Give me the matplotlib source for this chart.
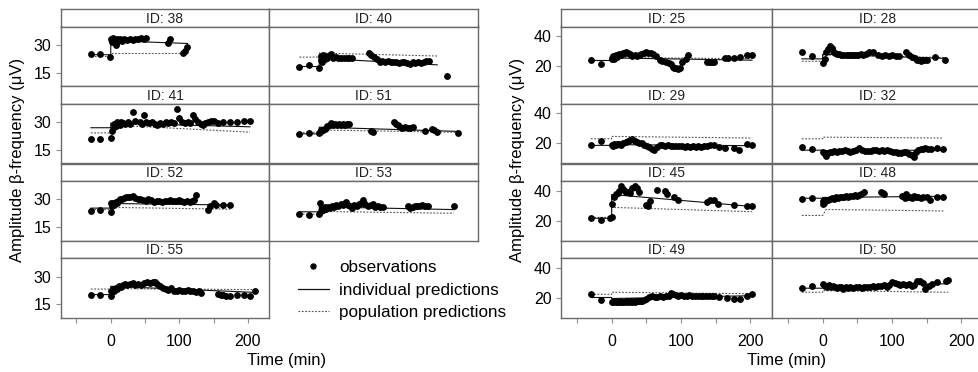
import matplotlib
matplotlib.use('Agg')
import matplotlib.pyplot as plt
from matplotlib.lines import Line2D

plt.rcParams['font.family'] = ['Liberation Sans', 'DejaVu Sans']

# ---------------- data ----------------
# observations: time (min) and amplitude (uV); individual / population predictions
t_38 = [-29, -15, -1, 1, 2, 3, 5, 7, 9, 11, 14, 17, 20, 24, 28, 32, 36, 40, 44, 48, 51, 83, 86, 105, 108, 111]
y_38 = [25, 25, 23.7, 33, 31.5, 34, 32, 30, 33, 32, 33, 32, 33, 32.5, 33, 32.5, 33, 33, 33.5, 33, 33.5, 31.3, 33.3, 25.5, 26.5, 28.8]
ind_38 = ([-29, 0, 0, 112], [24.7, 24.7, 32.3, 30.8])
pop_38 = ([-29, 0, 0, 112], [23.8, 23.8, 25.8, 25.8])

t_40 = [-29, -15, 0, 2, 3, 4, 5, 6, 8, 10, 12, 15, 17, 20, 24, 28, 32, 36, 40, 44, 48, 73, 76, 80, 84, 88, 92, 96, 100, 104, 108, 112, 116, 120, 124, 128, 132, 136, 140, 144, 148, 152, 156, 160, 186]
y_40 = [18.3, 19.2, 17.7, 22, 24, 21, 23.5, 24.5, 22.5, 24, 23, 24.5, 25, 23, 23.5, 23, 22.8, 23, 22.8, 23, 22.8, 25.5, 24.5, 23.5, 22.5, 21, 21.5, 20.5, 21.5, 21, 20.5, 21, 20, 21, 20.5, 20, 19.8, 20.5, 20, 20.8, 20.3, 21, 21.3, 21.5, 13.3]
ind_40 = ([-29, 0, 0, 172], [18.3, 18.3, 22.8, 19.2])
pop_40 = ([-29, 0, 0, 172], [23.4, 23.4, 25.6, 24.0])

t_41 = [-29, -15, 0, 2, 4, 5, 7, 9, 11, 13, 15, 18, 21, 25, 28, 32, 36, 42, 46, 48, 52, 56, 60, 64, 68, 72, 76, 80, 84, 88, 92, 97, 100, 104, 108, 112, 116, 120, 123, 127, 131, 135, 138, 142, 146, 150, 156, 164, 174, 184, 194, 203]
y_41 = [20.8, 20.8, 21.2, 25.3, 27.5, 29, 28, 30, 29, 28.5, 30, 29.5, 29, 30, 29, 35.3, 30.5, 30, 29, 33.7, 30, 29.5, 30, 29, 28.5, 29.5, 29, 30, 29.5, 30, 29.5, 37, 32.5, 30, 29.5, 30, 29.8, 33.7, 31.5, 30, 29, 28.5, 29.5, 30, 30.5, 30.5, 29.5, 30.3, 30.3, 30.3, 30.5, 30.5]
ind_41 = ([-29, 0, 0, 203], [27, 27, 29.5, 27.5])
pop_41 = ([-29, 0, 0, 203], [24.2, 24.2, 28.5, 24.6])

t_51 = [-29, -15, 0, 1, 2, 3, 4, 6, 8, 10, 12, 15, 17, 20, 23, 26, 29, 32, 35, 38, 41, 44, 76, 78, 109, 112, 115, 118, 121, 125, 129, 133, 136, 154, 164, 167, 172, 203]
y_51 = [23.7, 24.2, 24.2, 24.5, 25.5, 25, 26, 25.5, 26.5, 27, 28, 28.5, 29.5, 28.5, 29, 28.5, 29, 28.5, 29, 28.5, 29, 29, 25, 24.5, 30, 29, 28.5, 27.5, 27, 27.5, 27, 27, 27.5, 25.3, 26.3, 26, 24.7, 24.2]
ind_51 = ([-29, 0, 0, 203], [23.7, 23.7, 27.3, 25.0])
pop_51 = ([-29, 0, 0, 203], [24.5, 24.5, 25.8, 24.5])

t_52 = [-29, -15, 0, 1, 2, 3, 5, 7, 9, 11, 13, 16, 19, 22, 25, 28, 32, 35, 39, 43, 47, 51, 55, 59, 63, 67, 71, 75, 79, 83, 87, 91, 95, 99, 103, 107, 111, 115, 119, 122, 125, 142, 145, 150, 154, 164, 174]
y_52 = [23.7, 24.2, 23.3, 27.8, 26.5, 28, 27, 28.5, 28, 29, 30, 30.5, 31, 31.2, 31.5, 31.2, 31.7, 31, 30.5, 30, 29.5, 29, 30, 29.5, 28.8, 29.3, 29, 28.5, 29.3, 29, 29.5, 29, 29.3, 29.5, 29, 28.8, 29.2, 28.5, 29, 29.5, 32.3, 24.5, 26.2, 27.8, 27, 27, 27]
ind_52 = ([-29, 0, 0, 174], [25.3, 25.3, 27.8, 27.0])
pop_52 = ([-29, 0, 0, 174], [24.5, 24.5, 25.7, 24.7])

t_53 = [-29, -15, 0, 1, 2, 4, 6, 8, 10, 13, 16, 19, 22, 25, 28, 31, 34, 37, 39, 42, 45, 47, 51, 55, 58, 61, 64, 67, 71, 75, 78, 81, 85, 89, 93, 130, 133, 136, 139, 142, 146, 150, 154, 158, 196]
y_53 = [22.3, 21.7, 22, 28.3, 24, 25.5, 24.5, 26, 25, 26, 25.5, 26.5, 26, 27, 26.5, 27.5, 27, 28, 28.7, 27, 26.5, 25.3, 27, 26.5, 27.5, 28, 29.5, 27.5, 26.5, 27, 27.5, 26, 26.5, 26, 25.7, 26.2, 25.5, 26, 26.5, 26.3, 26.5, 26.8, 26.5, 26.7, 26.2]
ind_53 = ([-29, 0, 0, 196], [23.3, 23.3, 26.0, 24.5])
pop_53 = ([-29, 0, 0, 196], [22.0, 22.0, 23.5, 22.5])

t_55 = [-29, -15, 0, 1, 3, 5, 7, 9, 12, 15, 18, 21, 24, 28, 32, 36, 40, 44, 48, 53, 57, 61, 64, 68, 72, 76, 80, 84, 88, 92, 96, 100, 104, 108, 112, 116, 120, 124, 128, 132, 157, 161, 164, 168, 174, 184, 194, 203, 210]
y_55 = [20.3, 20.3, 19.7, 22.5, 23.5, 22.3, 24, 23.5, 25, 24.5, 25.5, 26, 25.5, 26, 26.5, 25.5, 26, 25.5, 26.5, 27.3, 26.5, 27, 27, 26, 25, 24, 23.5, 23, 24, 22.5, 22, 23, 22.5, 22.3, 23, 22, 22.5, 21.8, 22, 21, 20.5, 20, 20.3, 19.5, 19.3, 20, 20, 19.7, 22.3]
ind_55 = ([-29, 0, 0, 210], [20.3, 20.3, 24.8, 21.5])
pop_55 = ([-29, 0, 0, 210], [23.3, 23.3, 23.5, 23.0])

t_25 = [-30, -16, 0, 1, 2, 4, 6, 8, 10, 13, 16, 19, 21, 24, 27, 30, 33, 36, 39, 42, 46, 50, 53, 56, 60, 64, 69, 73, 78, 82, 85, 88, 90, 93, 95, 98, 102, 107, 110, 138, 141, 143, 145, 147, 164, 168, 176, 185, 195, 202]
y_25 = [23.8, 21.6, 24.9, 25.5, 26.5, 25, 27.5, 26, 28, 27.5, 28.5, 29, 29.3, 28.5, 28, 27, 27.5, 26.5, 27.5, 28, 28.5, 29.3, 29, 28.5, 28, 26.5, 23.8, 23.5, 22.7, 22, 21.6, 19.5, 18.7, 18.5, 18.2, 19, 22.7, 24.9, 27.6, 23.1, 22.5, 22.8, 22.5, 23.1, 25.3, 25.5, 25.3, 26, 27.6, 27.6]
ind_25 = ([-30, 0, 0, 202], [23.8, 23.8, 25.5, 24.0])
pop_25 = ([-30, 0, 0, 202], [23.8, 23.8, 25.8, 25.0])

t_28 = [-30, -16, 0, 3, 5, 8, 11, 13, 15, 18, 21, 24, 27, 30, 33, 36, 39, 42, 45, 48, 51, 55, 58, 62, 67, 72, 80, 85, 90, 95, 100, 105, 110, 120, 124, 129, 133, 136, 139, 141, 144, 146, 150, 162, 176]
y_28 = [29.3, 27.1, 22.2, 24.9, 29.3, 31.6, 33.8, 32, 30.4, 28.5, 28, 28.2, 27.5, 27.8, 27.3, 27.5, 27.2, 27.6, 27.3, 27.8, 27.5, 28, 27.5, 28, 29.8, 29.8, 27.3, 27.1, 27.2, 27, 27.3, 27, 27.1, 29.3, 27.8, 26, 25.5, 23.8, 24.2, 23.5, 24, 24.4, 24, 26.4, 24.4]
ind_28 = ([-30, 0, 0, 176], [24.9, 24.9, 28.0, 25.2])
pop_28 = ([-30, 0, 0, 176], [23.3, 23.3, 27.5, 25.8])

t_29 = [-30, -16, 0, 2, 4, 6, 8, 10, 13, 16, 20, 24, 27, 30, 34, 37, 40, 44, 47, 51, 54, 58, 61, 65, 69, 73, 77, 81, 85, 89, 93, 97, 101, 105, 109, 113, 117, 121, 125, 129, 133, 137, 141, 147, 154, 164, 176, 184, 195, 202]
y_29 = [19.1, 21.3, 19.1, 18.5, 19.5, 19, 19.5, 19.8, 19, 20, 21, 21.5, 22, 23.1, 21.5, 21, 20.5, 20, 18.7, 18, 17.6, 16.5, 15.3, 17.5, 18.7, 19, 18.5, 18.7, 18, 18.5, 18.2, 18.5, 18, 17.8, 18.3, 17.5, 18, 17.8, 18.2, 17.6, 18, 18.5, 19, 19.1, 17.8, 16.9, 16.9, 15.3, 19.8, 18.7]
ind_29 = ([-30, 0, 0, 202], [18.7, 18.7, 19.2, 18.5])
pop_29 = ([-30, 0, 0, 202], [23.1, 23.1, 24.7, 23.6])

t_32 = [-30, -16, 0, 3, 5, 8, 11, 14, 17, 20, 24, 28, 32, 36, 40, 44, 48, 53, 57, 61, 65, 69, 73, 77, 81, 85, 89, 93, 97, 101, 105, 109, 113, 117, 120, 124, 128, 131, 135, 138, 141, 145, 148, 152, 156, 165, 174]
y_32 = [17.6, 16, 14.2, 13, 11.6, 13.5, 14.5, 14, 15, 14.5, 15.2, 14.8, 15.5, 15, 14.5, 15.2, 15.5, 16.9, 15.5, 15, 15.2, 14.8, 15.3, 15.5, 15, 15.3, 15, 15.5, 14.8, 14.3, 14.5, 13.8, 13.5, 14, 14.2, 13, 12.5, 10.9, 14, 15.5, 16.4, 16.5, 16.9, 16.5, 16.3, 16.8, 16.4]
ind_32 = ([-30, 0, 0, 174], [15.5, 15.5, 15.2, 15.5])
pop_32 = ([-30, 0, 0, 174], [23.1, 23.1, 24.2, 23.6])

t_45 = [-30, -16, -2, 0, 1, 3, 6, 9, 11, 14, 16, 19, 21, 24, 26, 30, 33, 36, 40, 49, 52, 55, 65, 77, 80, 90, 95, 138, 142, 147, 153, 176, 195, 202]
y_45 = [21.6, 20.7, 21.6, 22.2, 31.1, 35.6, 37.8, 38.5, 40, 43.3, 41, 40, 39.3, 39, 38.5, 42, 43.3, 41.5, 38.9, 30.4, 29.5, 33.3, 40.7, 40, 37.8, 35.6, 34, 32.7, 34, 33.5, 31.1, 30.4, 30, 29.6]
ind_45 = ([-30, 0, 0, 202], [21.6, 21.6, 37.5, 29.5])
pop_45 = ([-30, 0, 0, 202], [22.2, 22.2, 28.9, 26.0])

t_48 = [-30, -16, 0, 1, 2, 4, 7, 10, 13, 16, 19, 22, 25, 28, 31, 34, 37, 40, 43, 46, 49, 52, 55, 60, 84, 87, 89, 115, 118, 120, 123, 126, 129, 132, 135, 138, 141, 145, 150, 155, 165, 174]
y_48 = [34.4, 34.9, 33.3, 31.1, 32, 33.5, 34, 34.5, 35, 34.8, 35.5, 35, 36, 35.5, 36, 36.5, 36, 36.8, 36.5, 37, 36.5, 37, 37.5, 38.9, 39.3, 38.5, 38, 36.5, 35, 37.8, 35.5, 36, 35, 36.5, 35.5, 36, 35.2, 35.8, 36, 34, 35.6, 35.6]
ind_48 = ([-30, 0, 0, 174], [35.0, 35.0, 35.5, 36.3])
pop_48 = ([-30, 0, 5, 174], [23.5, 23.5, 27.5, 26.5])

t_49 = [-30, -16, 0, 2, 4, 6, 8, 10, 12, 14, 16, 18, 20, 22, 24, 26, 28, 30, 32, 34, 36, 38, 40, 42, 44, 47, 50, 54, 58, 62, 66, 70, 74, 78, 82, 85, 88, 92, 96, 100, 104, 108, 112, 116, 120, 124, 128, 132, 136, 140, 144, 148, 154, 166, 176, 185, 195, 202]
y_49 = [22.7, 18.9, 17.5, 17, 17.8, 17.2, 17.5, 17, 17.8, 17.3, 17.6, 17.2, 17.8, 17.5, 17.7, 17.3, 17.8, 17.6, 17.9, 17.5, 18, 17.8, 18, 17.7, 18.2, 18.5, 19.5, 20.5, 21, 20.8, 20.5, 21, 20.8, 21.3, 21.5, 23.3, 22.5, 22, 21.5, 21.8, 21.2, 21.5, 21.8, 21.3, 21.6, 21, 21.5, 21.3, 21.5, 21.2, 21, 21.3, 20.4, 19.8, 19.3, 19.5, 21.6, 22.7]
ind_49 = ([-30, 0, 0, 202], [20.3, 20.3, 19.6, 21.5])
pop_49 = ([-30, 0, 0, 202], [22.4, 22.4, 23.8, 22.8])

t_50 = [-30, -16, 0, 3, 6, 9, 12, 15, 18, 21, 24, 27, 30, 33, 36, 40, 44, 48, 52, 56, 60, 64, 68, 72, 76, 80, 84, 88, 92, 96, 100, 104, 108, 112, 116, 120, 124, 128, 132, 136, 140, 144, 148, 153, 158, 165, 177, 181]
y_50 = [26.4, 27.8, 29.3, 28, 27.5, 28.5, 27, 28, 27.5, 26.5, 27.5, 27, 26, 27.5, 26.5, 27, 26.8, 27.5, 27, 26.5, 27.5, 27.3, 27, 28, 27.5, 28.3, 27.8, 28.5, 27.5, 28.8, 30.9, 30, 29.5, 28.8, 29.3, 28.5, 29, 28, 28.7, 31.6, 31.5, 30, 26, 28, 29, 30.9, 31.6, 32.2]
ind_50 = ([-30, 0, 0, 181], [26.5, 26.5, 27.0, 29.5])
pop_50 = ([-30, 0, 0, 181], [23.8, 23.8, 24.9, 23.8])

left_ids = [['38', '40'], ['41', '51'], ['52', '53'], ['55', None]]
right_ids = [['25', '28'], ['29', '32'], ['45', '48'], ['49', '50']]
left_yticks = [15, 30]
right_yticks = [20, 40]
xticks_major = [0, 100, 200]
xticks_minor = [-50, 50, 150]

series = {
    '38': (t_38, y_38, ind_38, pop_38), '40': (t_40, y_40, ind_40, pop_40),
    '41': (t_41, y_41, ind_41, pop_41), '51': (t_51, y_51, ind_51, pop_51),
    '52': (t_52, y_52, ind_52, pop_52), '53': (t_53, y_53, ind_53, pop_53),
    '55': (t_55, y_55, ind_55, pop_55),
    '25': (t_25, y_25, ind_25, pop_25), '28': (t_28, y_28, ind_28, pop_28),
    '29': (t_29, y_29, ind_29, pop_29), '32': (t_32, y_32, ind_32, pop_32),
    '45': (t_45, y_45, ind_45, pop_45), '48': (t_48, y_48, ind_48, pop_48),
    '49': (t_49, y_49, ind_49, pop_49), '50': (t_50, y_50, ind_50, pop_50),
}

# ---------------- layout ----------------
W, H = 979, 372
fig = plt.figure(figsize=(W / 100, H / 100), dpi=100)
FRAME = '#6a6a6a'
TOP = 9.0
PERIOD = 77.25
STRIP = 17.5
DASH = (0, (1.6, 1.4))


def add_ax(x, ytop, w, h):
    return fig.add_axes([x / W, 1 - (ytop + h) / H, w / W, h / H])


def draw_grid(ids, x0, cw, ylim, yticks):
    nrows = len(ids)
    for r, row in enumerate(ids):
        for c, pid in enumerate(row):
            if pid is None:
                continue
            x = x0 + c * cw
            ytop = TOP + r * PERIOD
            sax = add_ax(x, ytop, cw, STRIP)
            sax.set_xticks([]); sax.set_yticks([])
            for s in sax.spines.values():
                s.set_color(FRAME); s.set_linewidth(1.0)
            sax.text(0.5, 0.45, f'ID: {pid}', transform=sax.transAxes,
                     ha='center', va='center', fontsize=10, color='#222222')
            ax = add_ax(x, ytop + STRIP, cw, PERIOD - STRIP)
            t, y, ind, pop = series[pid]
            ax.plot(pop[0], pop[1], color='#555555', lw=0.8, ls=DASH)
            ax.plot(ind[0], ind[1], color='#111111', lw=0.8)
            ax.plot(t, y, ls='none', marker='o', ms=3.9, color='black', mec='black')
            ax.set_xlim(-73, 231)
            ax.set_ylim(*ylim)
            for s in ax.spines.values():
                s.set_color(FRAME); s.set_linewidth(1.0)
            ax.set_xticks(xticks_major)
            ax.set_xticks(xticks_minor, minor=True)
            ax.set_yticks(yticks)
            ax.tick_params(which='both', direction='out', length=3.5, width=0.8,
                           color='#909090', labelsize=11.5, pad=3)
            ax.tick_params(axis='x', which='both', pad=8)
            label_bottom = (r == nrows - 1)
            if c != 0:
                ax.tick_params(axis='y', left=False, labelleft=False)
            if not label_bottom:
                ax.tick_params(axis='x', which='both', bottom=False, labelbottom=False)


draw_grid(left_ids, 60.7, 208.5, (7.6, 40), left_yticks)
draw_grid(right_ids, 561.0, 211.0, (6.6, 46.5), right_yticks)

ylab = 'Amplitude β-frequency (μV)'
fig.text(18 / W, 1 - 160 / H, ylab, rotation=90, ha='center', va='center', fontsize=12)
fig.text(518 / W, 1 - 160 / H, ylab, rotation=90, ha='center', va='center', fontsize=12)
fig.text(287 / W, 1 - 361 / H, 'Time (min)', ha='center', va='center', fontsize=12)
fig.text(787 / W, 1 - 361 / H, 'Time (min)', ha='center', va='center', fontsize=12)

handles = [
    Line2D([], [], ls='none', marker='o', ms=3.6, color='black'),
    Line2D([], [], color='#111111', lw=0.9),
    Line2D([], [], color='#555555', lw=0.8, ls=DASH),
]
labels = ['observations', 'individual predictions', 'population predictions']
fig.legend(handles, labels, loc='center left', bbox_to_anchor=(298 / W, 1 - 290 / H),
           frameon=False, fontsize=12.3, handlelength=1.8, handletextpad=0.6,
           labelspacing=0.45, borderpad=0, borderaxespad=0)

fig.savefig('out.png', dpi=100)
